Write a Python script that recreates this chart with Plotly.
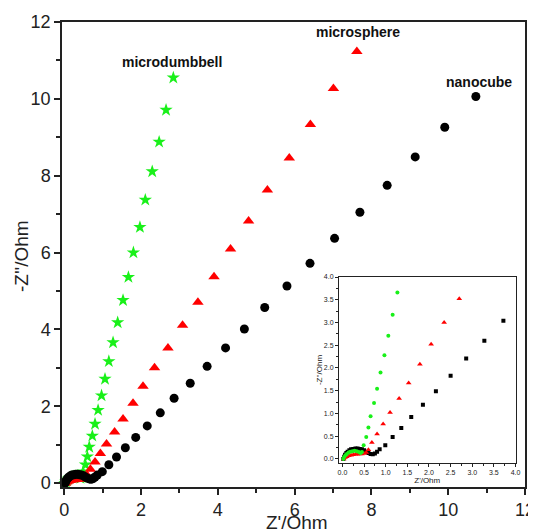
import plotly.graph_objects as go

# microdumbbell (green stars)
dumbbell_x = [0.02, 0.04, 0.07, 0.10, 0.14, 0.18, 0.23, 0.28, 0.33, 0.38, 0.42, 0.45,
              0.49, 0.55, 0.60, 0.65, 0.73, 0.80, 0.88, 0.97, 1.06, 1.16, 1.27, 1.39,
              1.53, 1.67, 1.80, 1.97, 2.11, 2.29, 2.47, 2.65, 2.84]
dumbbell_y = [0.00, 0.04, 0.08, 0.11, 0.14, 0.16, 0.17, 0.18, 0.17, 0.15, 0.13, 0.15,
              0.30, 0.48, 0.69, 0.94, 1.23, 1.54, 1.90, 2.28, 2.71, 3.17, 3.66, 4.18,
              4.76, 5.36, 6.00, 6.66, 7.37, 8.11, 8.88, 9.71, 10.55]

# microsphere (red triangles)
sphere_x = [0.03, 0.06, 0.10, 0.15, 0.20, 0.25, 0.30, 0.35, 0.40, 0.45, 0.50, 0.55, 0.60,
            0.68, 0.80, 0.94, 1.10, 1.31, 1.53, 1.79, 2.05, 2.35, 2.70, 3.08, 3.48,
            3.90, 4.33, 4.80, 5.29, 5.86, 6.41, 7.01, 7.62]
sphere_y = [0.00, 0.03, 0.05, 0.07, 0.08, 0.09, 0.10, 0.10, 0.11, 0.11, 0.12, 0.14, 0.20,
            0.36, 0.55, 0.77, 1.02, 1.33, 1.67, 2.08, 2.52, 3.00, 3.52, 4.11, 4.71,
            5.37, 6.09, 6.82, 7.63, 8.46, 9.33, 10.27, 11.23]

# nanocube (black circles)
cube_x = [0.02, 0.04, 0.06, 0.09, 0.12, 0.16, 0.20, 0.25, 0.30, 0.35, 0.40, 0.45, 0.50,
          0.55, 0.60, 0.65, 0.70, 0.75, 0.80, 0.86,
          0.99, 1.16, 1.36, 1.59, 1.86, 2.16, 2.50, 2.86, 3.28, 3.72, 4.20, 4.69,
          5.22, 5.80, 6.40, 7.04, 7.70, 8.41, 9.14, 9.91, 10.72]
cube_y = [0.00, 0.05, 0.09, 0.13, 0.16, 0.19, 0.21, 0.22, 0.23, 0.23, 0.22, 0.21, 0.19,
          0.16, 0.13, 0.11, 0.10, 0.12, 0.16, 0.21,
          0.30, 0.48, 0.68, 0.92, 1.19, 1.49, 1.83, 2.21, 2.60, 3.04, 3.52, 4.01,
          4.57, 5.13, 5.72, 6.37, 7.05, 7.75, 8.49, 9.26, 10.06]

main_ticks = [0, 2, 4, 6, 8, 10, 12]
inset_ticks = [0.0, 0.5, 1.0, 1.5, 2.0, 2.5, 3.0, 3.5, 4.0]

GREEN = "#19F019"
RED = "#FF0000"
BLACK = "#000000"
FONT = "Arial, Liberation Sans, sans-serif"

# page body has an 8px margin: figure is sized / offset to compensate
OFF = 8
PL, PT, PW, PH = 62, 22, 463, 465  # main plot area in window pixels
FIG_W, FIG_H = 536 - OFF, 532 - OFF

fig = go.Figure()

# main plot (black drawn last so it covers the green/red arcs near the origin)
fig.add_trace(go.Scatter(x=dumbbell_x, y=dumbbell_y, mode="markers",
                         marker=dict(symbol="star", size=10, color=GREEN),
                         xaxis="x", yaxis="y", cliponaxis=False))
fig.add_trace(go.Scatter(x=sphere_x, y=sphere_y, mode="markers",
                         marker=dict(symbol="triangle-up", size=10, color=RED),
                         xaxis="x", yaxis="y", cliponaxis=False))
fig.add_trace(go.Scatter(x=cube_x, y=cube_y, mode="markers",
                         marker=dict(symbol="circle", size=9, color=BLACK),
                         xaxis="x", yaxis="y", cliponaxis=False))

# inset
fig.add_trace(go.Scatter(x=cube_x, y=cube_y, mode="markers",
                         marker=dict(symbol="square", size=4, color=BLACK),
                         xaxis="x2", yaxis="y2"))
fig.add_trace(go.Scatter(x=sphere_x, y=sphere_y, mode="markers",
                         marker=dict(symbol="triangle-up", size=5, color=RED),
                         xaxis="x2", yaxis="y2"))
fig.add_trace(go.Scatter(x=dumbbell_x, y=dumbbell_y, mode="markers",
                         marker=dict(symbol="circle", size=4, color=GREEN),
                         xaxis="x2", yaxis="y2"))

axis_common = dict(showgrid=False, zeroline=False, showline=True, linecolor="#222",
                   mirror=True, ticks="outside", tickcolor="#222", automargin=False)


def px_x(px):
    return (px - PL) / PW


def px_y(py):
    return (PT + PH - py) / PH


fig.update_layout(
    width=FIG_W, height=FIG_H,
    margin=dict(l=PL - OFF, r=FIG_W - (PL - OFF) - PW, t=PT - OFF,
                b=FIG_H - (PT - OFF) - PH),
    paper_bgcolor="white", plot_bgcolor="white",
    showlegend=False,
    font=dict(family=FONT, color="#222"),
    xaxis=dict(**axis_common, range=[-0.06, 12], tickvals=main_ticks,
               linewidth=1.5, tickwidth=1.5, ticklen=6,
               minor=dict(ticks="outside", dtick=1, tick0=0, ticklen=4, tickwidth=1.5, tickcolor="#222"),
               tickfont=dict(size=18), domain=[0, 1]),
    yaxis=dict(**axis_common, range=[-0.1, 12], tickvals=main_ticks,
               linewidth=1.5, tickwidth=1.5, ticklen=6,
               minor=dict(ticks="outside", dtick=1, tick0=0, ticklen=4, tickwidth=1.5, tickcolor="#222"),
               tickfont=dict(size=18), domain=[0, 1]),
    xaxis2=dict(**axis_common, range=[-0.08, 4.0], tickvals=inset_ticks, tickformat=".1f",
                linewidth=1, tickwidth=1, ticklen=3,
                minor=dict(ticks="outside", dtick=0.25, tick0=0, ticklen=2, tickwidth=1, tickcolor="#222"),
                tickfont=dict(size=7),
                title=dict(text="Z'/Ohm", font=dict(size=8), standoff=0),
                domain=[px_x(339), px_x(515.5)], anchor="y2"),
    yaxis2=dict(**axis_common, range=[-0.09, 4.0], tickvals=inset_ticks, tickformat=".1f",
                linewidth=1, tickwidth=1, ticklen=3,
                minor=dict(ticks="outside", dtick=0.25, tick0=0, ticklen=2, tickwidth=1, tickcolor="#222"),
                tickfont=dict(size=7),
                title=dict(text="-Z''/Ohm", font=dict(size=8), standoff=0),
                domain=[px_y(463), px_y(277)], anchor="x2"),
    annotations=[
        dict(x=2.81, y=10.96, xref="x", yref="y", text="<b>microdumbbell</b>",
             showarrow=False, font=dict(size=14, color="#111")),
        dict(x=7.64, y=11.74, xref="x", yref="y", text="<b>microsphere</b>",
             showarrow=False, font=dict(size=14, color="#111")),
        dict(x=10.8, y=10.44, xref="x", yref="y", text="<b>nanocube</b>",
             showarrow=False, font=dict(size=14, color="#111")),
        # main axis titles
        dict(x=px_x(297), y=px_y(522), xref="paper", yref="paper",
             text="Z'/Ohm", showarrow=False, font=dict(size=19, color="#222"),
             xanchor="center", yanchor="middle"),
        dict(x=px_x(22), y=px_y(256), xref="paper", yref="paper",
             text="-Z''/Ohm", textangle=-90, showarrow=False,
             font=dict(size=19, color="#222"), xanchor="center", yanchor="middle"),
    ],
)

fig.write_html("out.html")
